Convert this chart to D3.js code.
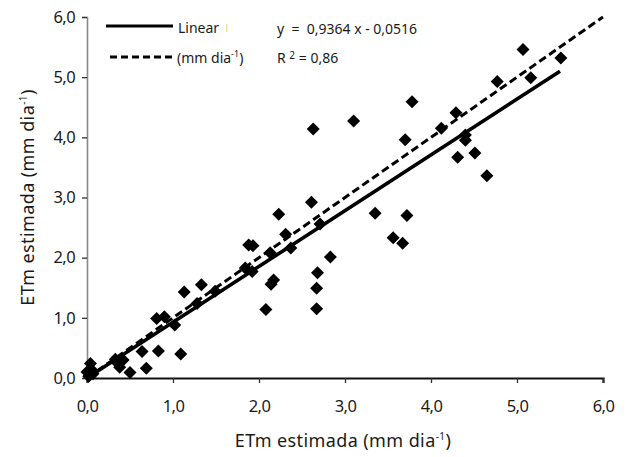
<!DOCTYPE html>
<html>
  <head>
    <title>ETm scatter</title>
    <script src="https://d3js.org/d3.v7.min.js"></script>
    <style>
      body { margin: 0; background: #fff; }
      text { font-family: "Noto Sans", sans-serif; fill: #1a1a1a; }
      .axis .tick text { font-size: 16.5px; letter-spacing: -0.6px; }
      .axis--x .domain { stroke: #111; stroke-width: 2.2px; }
      .axis--y .domain { stroke: #888; stroke-width: 1.6px; }
      .axis .tick line { stroke: #333; stroke-width: 1.3px; }
      .title { font-size: 18px; letter-spacing: 0.4px; }
      .legend text { font-size: 14px; }
    </style>
  </head>
  <body>
    <svg width="630" height="457"></svg>

    <script>
      // observed (x) vs estimated (y) ETm, mm dia-1
      const obsX = [0.00, 0.04, 0.05, 0.07, 0.02, 0.33, 0.36, 0.38, 0.42, 0.50,
                    0.64, 0.69, 0.83, 0.81, 0.90, 1.02, 1.09, 1.13, 1.28, 1.33,
                    1.49, 1.84, 1.92, 1.88, 1.93, 2.13, 2.17, 2.14, 2.08, 2.23,
                    2.31, 2.37, 2.61, 2.63, 2.67, 2.67, 2.68, 2.71, 2.83, 3.10,
                    3.35, 3.56, 3.67, 3.70, 3.72, 3.78, 4.12, 4.29, 4.31, 4.40,
                    4.40, 4.51, 4.65, 4.77, 5.07, 5.16, 5.51];
      const estY = [0.10, 0.24, 0.14, 0.07, 0.03, 0.31, 0.24, 0.18, 0.30, 0.09,
                    0.44, 0.16, 0.45, 0.99, 1.02, 0.88, 0.40, 1.43, 1.24, 1.55,
                    1.44, 1.83, 1.77, 2.21, 2.20, 2.08, 1.63, 1.56, 1.14, 2.72,
                    2.39, 2.16, 2.92, 4.14, 1.49, 1.15, 1.75, 2.56, 2.01, 4.27,
                    2.74, 2.33, 2.24, 3.96, 2.70, 4.59, 4.15, 4.41, 3.67, 4.04,
                    3.95, 3.74, 3.36, 4.93, 5.46, 4.99, 5.32];
      const ticks = [0, 1, 2, 3, 4, 5, 6];
      const slope = 0.9364, intercept = -0.0516, fitEnd = 5.5;
      const eqText = "y  =  0,9364 x - 0,0516";
      const r2Text = "0,86";

      const svg = d3.select("svg");
      const fmt = d => d3.format(".1f")(d).replace(".", ",");

      const x = d3.scaleLinear().domain([0, 6]).range([87, 603]);
      const y = d3.scaleLinear().domain([0, 6]).range([378, 17]);

      svg.append("g")
          .attr("class", "axis axis--x")
          .attr("transform", `translate(0, ${y(0)})`)
          .call(d3.axisBottom(x).tickValues(ticks).tickFormat(fmt).tickSizeInner(5).tickSizeOuter(5).tickPadding(17));

      svg.append("g")
          .attr("class", "axis axis--y")
          .attr("transform", `translate(${x(0)}, 0)`)
          .call(d3.axisLeft(y).tickValues(ticks).tickFormat(fmt).tickSizeInner(5).tickSizeOuter(5).tickPadding(7));

      // 1:1 line
      svg.append("line")
          .attr("x1", x(0)).attr("y1", y(0))
          .attr("x2", x(6)).attr("y2", y(6))
          .attr("stroke", "#000").attr("stroke-width", 3)
          .attr("stroke-dasharray", "8,4");

      // fitted line
      svg.append("line")
          .attr("x1", x(0)).attr("y1", y(Math.max(0, intercept)))
          .attr("x2", x(fitEnd)).attr("y2", y(slope * fitEnd + intercept))
          .attr("stroke", "#000").attr("stroke-width", 3.6);

      const diamond = "M0,-6.5L6.5,0L0,6.5L-6.5,0Z";
      svg.append("g").selectAll("path")
        .data(obsX.map((d, i) => [d, estY[i]]))
        .join("path")
          .attr("d", diamond)
          .attr("transform", d => `translate(${x(d[0])}, ${y(d[1])})`)
          .attr("fill", "#000");

      // legend
      const lg = svg.append("g").attr("class", "legend");
      lg.append("line").attr("x1", 106).attr("x2", 173).attr("y1", 26).attr("y2", 26)
          .attr("stroke", "#000").attr("stroke-width", 3);
      lg.append("text").attr("x", 178).attr("y", 33).text("Linear");
      lg.append("rect").attr("x", 226).attr("y", 24).attr("width", 1.5).attr("height", 8)
          .attr("fill", "#f2e3a3");
      lg.append("line").attr("x1", 110).attr("x2", 176).attr("y1", 57).attr("y2", 57)
          .attr("stroke", "#000").attr("stroke-width", 3).attr("stroke-dasharray", "7,4");
      const unit = lg.append("text").attr("x", 177).attr("y", 63);
      unit.append("tspan").text("(mm dia");
      unit.append("tspan").attr("font-size", "9px").attr("dy", -6).text("-1");
      unit.append("tspan").attr("dy", 6).text(")");

      lg.append("text").attr("x", 277).attr("y", 34).attr("xml:space", "preserve").text(eqText);
      const r2 = lg.append("text").attr("x", 277).attr("y", 63);
      r2.append("tspan").text("R ");
      r2.append("tspan").attr("font-size", "10px").attr("dy", -4).text("2");
      r2.append("tspan").attr("dy", 4).text(" = " + r2Text);

      // axis titles
      const xt = svg.append("text").attr("class", "title")
          .attr("x", 343).attr("y", 447).attr("text-anchor", "middle");
      xt.append("tspan").text("ETm estimada (mm dia");
      xt.append("tspan").attr("font-size", "10px").attr("dy", -7).text("-1");
      xt.append("tspan").attr("dy", 7).text(")");

      const yt = svg.append("text").attr("class", "title")
          .attr("transform", `translate(34, ${(y(0) + y(6)) / 2}) rotate(-90)`)
          .attr("text-anchor", "middle");
      yt.append("tspan").text("ETm estimada (mm dia");
      yt.append("tspan").attr("font-size", "10px").attr("dy", -7).text("-1");
      yt.append("tspan").attr("dy", 7).text(")");
    </script>
  </body>
</html>
